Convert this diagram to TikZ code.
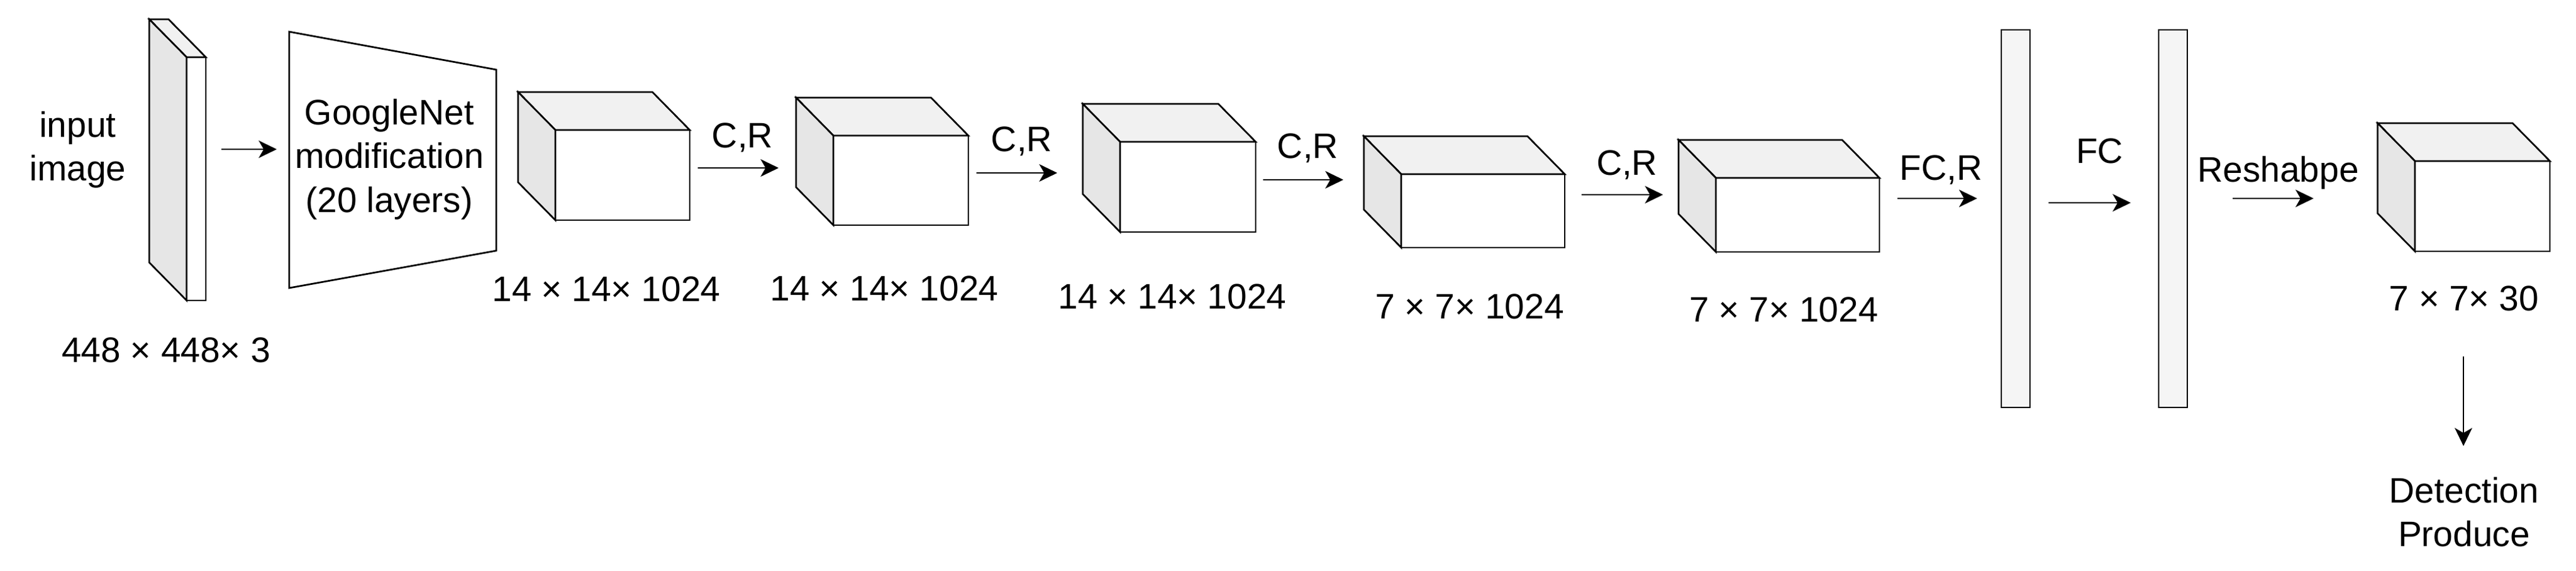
\documentclass[tikz,border=0pt]{standalone}
\usepackage{fontspec}
\setmainfont{Liberation Sans}
\usetikzlibrary{arrows.meta,positioning,calc}
\definecolor{topgray}{HTML}{F1F1F1}
\definecolor{sidegray}{HTML}{E6E6E6}
\definecolor{bargray}{HTML}{F5F5F5}

% feature map drawn as a box: name, front top-left x, y, width, height
\newcommand{\featcube}[5]{%
  \node[front, minimum width=#4cm, minimum height=#5cm, anchor=north west] (#1) at (#2,#3) {};
  \filldraw[fill=topgray] (#1.north west) -- ++(-0.6,0.61) -- ++(#4,0) -- (#1.north east) -- cycle;
  \filldraw[fill=sidegray] (#1.north west) -- ++(-0.6,0.61) -- ++(0,-#5) -- (#1.south west) -- cycle;
}

\begin{document}
\begin{tikzpicture}[
    line width=0.027cm,
    txt/.style={font=\fontsize{16.2}{20}\selectfont, align=center},
    front/.style={draw, fill=white, inner sep=0pt, outer sep=0pt},
    fcbar/.style={draw, fill=bargray, inner sep=0pt, outer sep=0pt, minimum width=0.46cm, minimum height=6.07cm, anchor=north west},
    arrow/.style={-{Stealth[length=0.29cm,width=0.28cm,inset=0.08cm]}}
]
\useasboundingbox (0,0) rectangle (41.42,-9.18);

% Input and backbone
\featcube{inp}{3.00}{-0.92}{0.31}{3.91}
\node[txt] (inlbl) at (1.25,-2.41) {input\\image};
\node[txt] (insize) at (2.67,-5.63) {448 × 448× 3};
\draw[fill=white] (4.65,-0.51) -- (7.98,-1.12) -- (7.98,-4.03) -- (4.65,-4.63) -- cycle;
\node[txt] (gnet) at (6.26,-2.56) {GoogleNet\\modification\\(20 layers)};

% Conv layers
\featcube{c1}{8.93}{-2.09}{2.16}{1.45}
\featcube{c2}{13.40}{-2.18}{2.17}{1.44}
\featcube{c3}{18.01}{-2.28}{2.18}{1.45}
\featcube{c4}{22.53}{-2.80}{2.63}{1.18}
\featcube{c5}{27.59}{-2.86}{2.63}{1.19}
\node[txt] (s1) at (9.75,-4.65) {14 × 14× 1024};
\node[txt] (s2) at (14.22,-4.64) {14 × 14× 1024};
\node[txt] (s3) at (18.85,-4.77) {14 × 14× 1024};
\node[txt] (s4) at (23.63,-4.93) {7 × 7× 1024};
\node[txt] (s5) at (28.68,-4.98) {7 × 7× 1024};

% Fully connected and output
\node[fcbar] (fc1) at (32.18,-0.48) {};
\node[fcbar] (fc2) at (34.71,-0.48) {};
\featcube{out}{38.83}{-2.59}{2.17}{1.45}
\node[txt] (s6) at (39.62,-4.80) {7 × 7× 30};
\node[txt] (det) at (39.62,-8.23) {Detection\\Produce};

% Arrow ends
\coordinate (a0s) at (3.56,-2.40);  \coordinate (a0e) at (4.45,-2.40);
\coordinate (a1s) at (11.22,-2.70); \coordinate (a1e) at (12.52,-2.70);
\coordinate (a2s) at (15.70,-2.78); \coordinate (a2e) at (17.00,-2.78);
\coordinate (a3s) at (20.31,-2.89); \coordinate (a3e) at (21.60,-2.89);
\coordinate (a4s) at (25.43,-3.13); \coordinate (a4e) at (26.74,-3.13);
\coordinate (a5s) at (30.51,-3.19); \coordinate (a5e) at (31.79,-3.19);
\coordinate (a6s) at (32.94,-3.26); \coordinate (a6e) at (34.26,-3.26);
\coordinate (a7s) at (35.90,-3.19); \coordinate (a7e) at (37.20,-3.19);
\coordinate (a8s) at (39.61,-5.73); \coordinate (a8e) at (39.61,-7.17);

\draw[arrow] (a0s) -- (a0e);
\draw[arrow] (a1s) -- (a1e);
\draw[arrow] (a2s) -- (a2e);
\draw[arrow] (a3s) -- (a3e);
\draw[arrow] (a4s) -- (a4e);
\draw[arrow] (a5s) -- (a5e);
\draw[arrow] (a6s) -- (a6e);
\draw[arrow] (a7s) -- (a7e);
\draw[arrow, line width=0.02cm] (a8s) -- (a8e);

\node[txt] (cr1) at (11.94,-2.21) {C,R};
\node[txt] (cr2) at (16.43,-2.27) {C,R};
\node[txt] (cr3) at (21.03,-2.38) {C,R};
\node[txt] (cr4) at (26.16,-2.65) {C,R};
\node[txt] (fcr) at (31.21,-2.73) {FC,R};
\node[txt] (fcl) at (33.76,-2.43) {FC};
\node[txt] (resh) at (36.63,-2.78) {Reshabpe};
\end{tikzpicture}
\end{document}
